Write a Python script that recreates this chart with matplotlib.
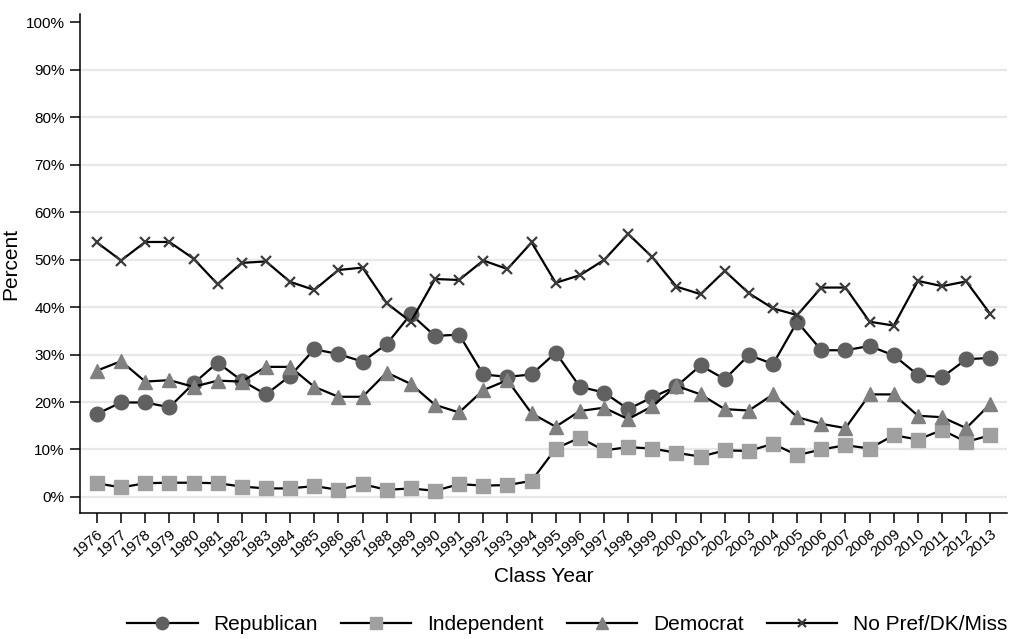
import matplotlib
matplotlib.use("Agg")
import matplotlib.pyplot as plt
from matplotlib.ticker import FuncFormatter

plt.rcParams['font.family'] = ['Liberation Sans', 'DejaVu Sans']

years = list(range(1976, 2014))

republican = [17.5, 19.9, 19.9, 18.9, 23.9, 28.3, 24.5, 21.6, 25.5, 31.1,
              30.1, 28.5, 32.2, 38.5, 33.9, 34.2, 25.8, 25.3, 25.8, 30.4,
              23.2, 22.0, 18.5, 21.0, 23.3, 27.7, 24.8, 29.9, 28.0, 36.9,
              30.9, 30.9, 31.8, 29.8, 25.7, 25.2, 29.0, 29.3]

independent = [2.9, 2.0, 2.9, 3.0, 3.0, 2.9, 2.2, 1.8, 1.8, 2.3,
               1.5, 2.7, 1.5, 1.8, 1.3, 2.7, 2.4, 2.5, 3.4, 10.2,
               12.5, 9.8, 10.5, 10.2, 9.3, 8.5, 9.8, 9.7, 11.2, 8.8,
               10.0, 10.9, 10.2, 13.0, 12.1, 14.1, 11.6, 13.0]

democrat = [26.6, 28.6, 24.3, 24.6, 23.2, 24.5, 24.3, 27.4, 27.4, 23.2,
            21.1, 21.1, 26.2, 23.8, 19.4, 17.8, 22.5, 24.6, 17.6, 14.8,
            18.1, 18.8, 16.4, 19.1, 23.4, 21.6, 18.5, 18.2, 21.6, 16.8,
            15.4, 14.5, 21.6, 21.6, 17.1, 16.8, 14.5, 19.6]

no_pref = [53.6, 49.8, 53.7, 53.7, 50.2, 44.8, 49.3, 49.6, 45.3, 43.6,
           47.8, 48.3, 40.8, 36.9, 45.9, 45.7, 49.8, 48.0, 53.6, 45.1,
           46.7, 49.9, 55.4, 50.5, 44.3, 42.7, 47.6, 42.9, 39.7, 38.3,
           44.1, 44.1, 36.9, 36.1, 45.5, 44.4, 45.4, 38.5]

series = [
    ("Republican", republican, dict(marker='o', markersize=10.5, markerfacecolor='#606060', markeredgecolor='#606060')),
    ("Independent", independent, dict(marker='s', markersize=9.5, markerfacecolor='#a0a0a0', markeredgecolor='#a0a0a0')),
    ("Democrat", democrat, dict(marker='^', markersize=10.5, markerfacecolor='#808080', markeredgecolor='#808080')),
    ("No Pref/DK/Miss", no_pref, dict(marker='x', markersize=7, markeredgewidth=1.6, markeredgecolor='#3c3c3c')),
]

fig = plt.figure(figsize=(10.09, 6.39), dpi=100)
ax = fig.add_axes([0.0793, 0.197, 0.919, 0.781])

for name, vals, style in series:
    ax.plot(years, vals, color='black', linewidth=1.6, label=name, **style)

ax.set_xlim(1975.3, 2013.7)
ax.set_ylim(-3.4, 101.7)
ax.set_yticks(range(0, 101, 10))
ax.yaxis.set_major_formatter(FuncFormatter(lambda v, p: f"{int(v)}%"))
ax.set_xticks(years)
ax.set_xticklabels([str(y) for y in years], rotation=40, ha='right',
                   rotation_mode='anchor', fontsize=11)

for v in range(0, 100, 10):
    ax.axhline(v, color='#e8e8e8', linewidth=1.6, zorder=0)

ax.tick_params(axis='y', labelsize=11, length=7, width=1.1, pad=4)
ax.tick_params(axis='x', length=7, width=1.1, pad=3)

for side in ('top', 'right'):
    ax.spines[side].set_visible(False)
for side in ('left', 'bottom'):
    ax.spines[side].set_linewidth(1.1)

ax.set_ylabel("Percent", fontsize=15, labelpad=4)
ax.set_xlabel("Class Year", fontsize=15, labelpad=5)

# legend keys use smaller markers than the plotted points
leg_handles = []
for (name, vals, style) in series:
    st = dict(style)
    st['markersize'] = st['markersize'] * 0.85
    lh, = ax.plot([], [], color='black', linewidth=1.6, **st)
    leg_handles.append(lh)

fig.legend(leg_handles, [s[0] for s in series], loc='center', ncol=4,
           bbox_to_anchor=(0.562, 0.022), frameon=False, fontsize=15,
           handlelength=3.4, columnspacing=1.1, handletextpad=0.75)

fig.savefig("out.png", dpi=100)
